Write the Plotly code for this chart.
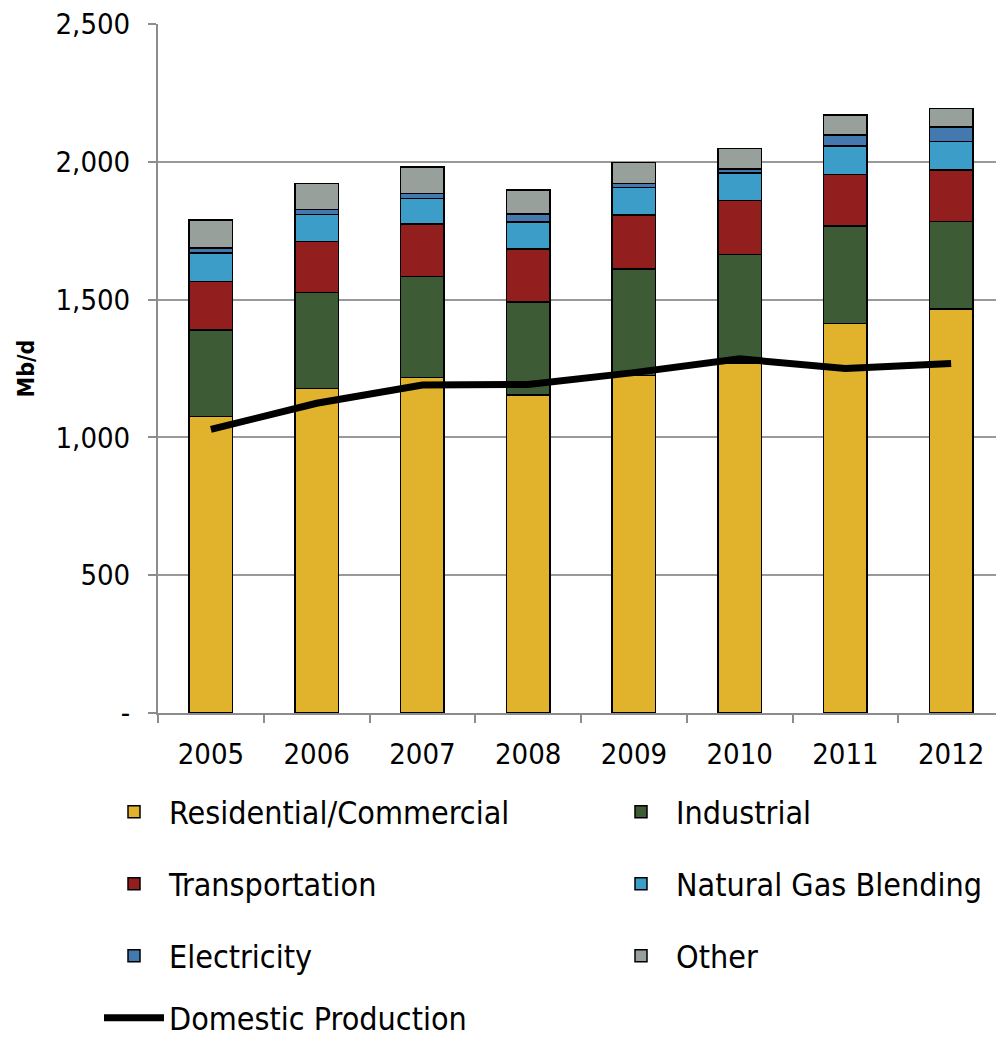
import plotly.graph_objects as go

years = ["2005", "2006", "2007", "2008", "2009", "2010", "2011", "2012"]
residential = [1075, 1178, 1218, 1154, 1225, 1270, 1414, 1466]
industrial = [315, 347, 365, 338, 386, 394, 353, 317]
transportation = [175, 185, 191, 191, 196, 195, 187, 187]
ng_blending = [105, 99, 92, 99, 99, 101, 103, 103]
electricity = [18, 18, 19, 28, 15, 14, 40, 54]
other = [100, 95, 97, 87, 76, 75, 73, 67]
domestic = [1029, 1124, 1190, 1192, 1235, 1285, 1250, 1268]

ytick_vals = [0, 500, 1000, 1500, 2000, 2500]
ytick_text = ["-", "500", "1,000", "1,500", "2,000", "2,500"]

FONT = "DejaVu Sans Condensed, Liberation Sans Narrow, sans-serif"

series = [
    ("Residential/Commercial", residential, "#E1B32C"),
    ("Industrial", industrial, "#3D5C36"),
    ("Transportation", transportation, "#931E1E"),
    ("Natural Gas Blending", ng_blending, "#3C9DC8"),
    ("Electricity", electricity, "#4379AE"),
    ("Other", other, "#97A09A"),
]

# legend slot for each entry: (column, row)
slots = [(0, 0), (1, 0), (0, 1), (1, 1), (0, 2), (1, 2), (0, 3)]

fig = go.Figure()
for i, (name, vals, color) in enumerate(series):
    fig.add_trace(go.Bar(
        x=years, y=vals, name=name, legend="legend" if i == 0 else f"legend{i+1}",
        marker=dict(color=color, line=dict(color="black", width=1.5)),
        showlegend=True,
    ))

fig.add_trace(go.Scatter(
    x=years, y=domestic, name="Domestic Production", legend="legend7",
    mode="lines", line=dict(color="black", width=7), showlegend=True,
))

# the page body has an 8px margin; work in page pixels and subtract it
OFF = 8
FIG_W, FIG_H = 1004 - OFF, 1041 - OFF
PLOT_L, PLOT_T, PLOT_B = 158 - OFF, 24 - OFF, 713 - OFF
PLOT_W = FIG_W - PLOT_L
PLOT_H = PLOT_B - PLOT_T
col_text_x = [170 - OFF, 677 - OFF]
row_y = [812 - OFF, 884 - OFF, 956 - OFF, 1018 - OFF]

legends = {}
for i, (c, r) in enumerate(slots):
    key = "legend" if i == 0 else f"legend{i+1}"
    left_px = col_text_x[c] - 71
    legends[key] = dict(
        orientation="h",
        x=(left_px - PLOT_L) / PLOT_W, xanchor="left",
        y=(PLOT_B - row_y[r]) / PLOT_H, yanchor="middle",
        itemwidth=60,
        font=dict(family=FONT, size=32, color="black"),
        bgcolor="rgba(0,0,0,0)",
        visible=True,
    )

fig.update_layout(
    barmode="stack",
    bargap=0.59,
    showlegend=True,
    width=FIG_W, height=FIG_H,
    margin=dict(l=PLOT_L, r=0, t=PLOT_T, b=FIG_H - PLOT_B, autoexpand=False),
    plot_bgcolor="white", paper_bgcolor="white",
    font=dict(family=FONT, size=28, color="black"),
    xaxis=dict(
        type="category", showgrid=False, showline=True, linecolor="#8c8c8c", linewidth=2,
        ticks="outside", tickson="boundaries", ticklen=8, tickcolor="#8c8c8c", tickwidth=2,
        tickfont=dict(size=29, family=FONT), ticklabelstandoff=14,
        ticklabeloverflow="allow",
    ),
    yaxis=dict(
        range=[0, 2500], tickvals=ytick_vals, ticktext=ytick_text,
        showgrid=True, gridcolor="#999999", gridwidth=2,
        showline=True, linecolor="#8c8c8c", linewidth=2,
        ticks="outside", ticklen=8, tickcolor="#8c8c8c", tickwidth=2,
        tickfont=dict(size=29, family=FONT), ticklabelstandoff=12,
        ticklabeloverflow="allow",
        title=dict(text="<b>Mb/d</b>", font=dict(size=23, family=FONT), standoff=14),
        zeroline=False,
    ),
    **legends,
)

fig.write_html("out.html")
